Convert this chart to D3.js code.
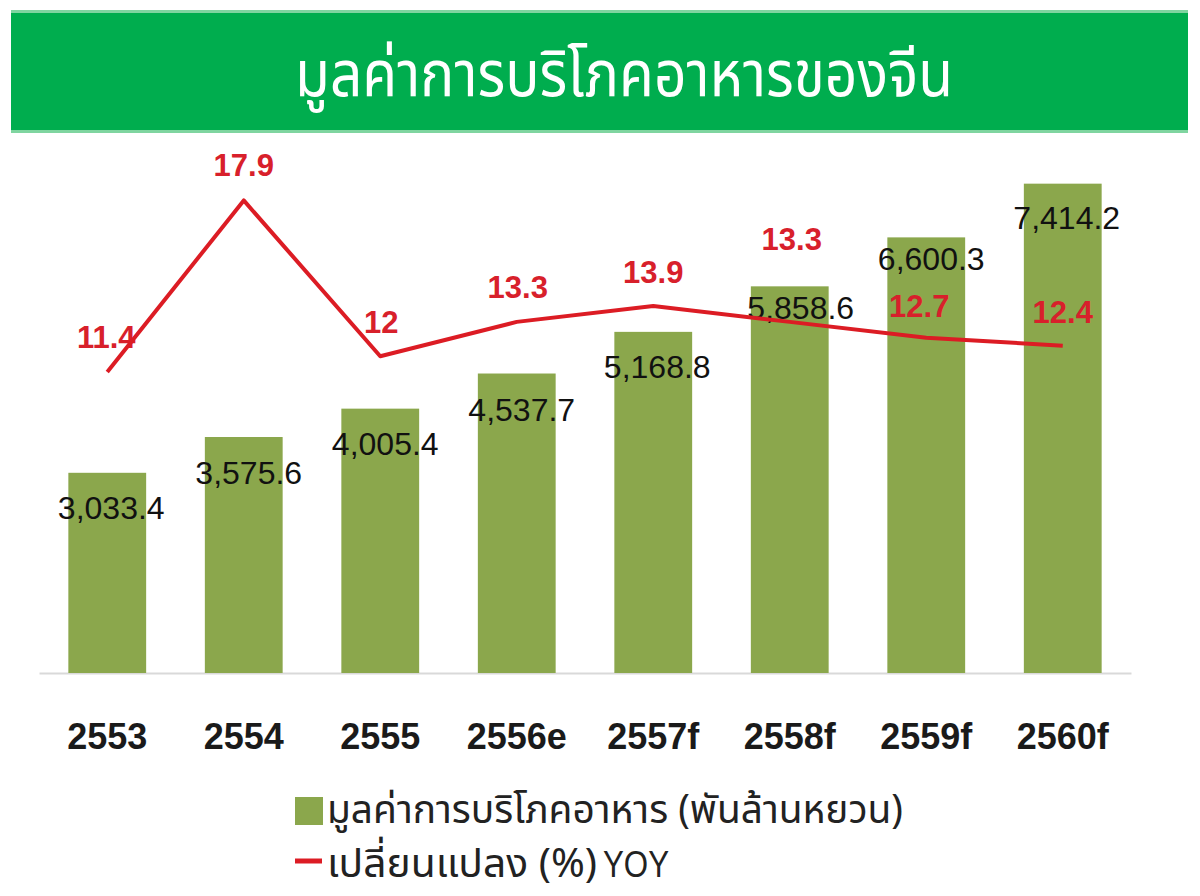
<!DOCTYPE html>
<html>
<head>
<meta charset="utf-8">
<script src="https://cdn.jsdelivr.net/npm/d3@7"></script>
<style>
  body { margin: 0; background: #fff; }
  svg { display: block; }
</style>
</head>
<body>
<svg id="chart" width="1200" height="896"></svg>
<script>
  const title = "มูลค่าการบริโภคอาหารของจีน";
  const years = ["2553", "2554", "2555", "2556e", "2557f", "2558f", "2559f", "2560f"];
  const consumption = [3033.4, 3575.6, 4005.4, 4537.7, 5168.8, 5858.6, 6600.3, 7414.2];
  const yoy = [11.4, 17.9, 12, 13.3, 13.9, 13.3, 12.7, 12.4];
  const legendBars = "มูลค่าการบริโภคอาหาร (พันล้านหยวน)";
  const legendLine = "เปลี่ยนแปลง (%) ";
  const legendLineSuffix = "YOY";

  // label nudges (px), as placed in the original
  const valueDy = [35, 35, 35, 36, 35, 21, 21, 34];
  const valueDx = [4, 5, 5, 5, 4, 11, 5, 4];
  const yoyDy = [-35, -36, -34, -35, -34, -83, -32, -34];
  const yoyDx = [-1, 0, 1, 1, 0, 2, -7, 0];

  const thaiFont = "'Noto Sans Thai', 'Noto Sans', Loma, Garuda, sans-serif";
  const numFont = "'Liberation Sans', Arial, sans-serif";

  const svg = d3.select("#chart");

  // title banner
  svg.append("rect")
    .attr("x", 11).attr("y", 10)
    .attr("width", 1177).attr("height", 123)
    .attr("fill", "#00ad4e");
  svg.append("rect").attr("x", 11).attr("y", 10).attr("width", 1177).attr("height", 3).attr("fill", "#7fd5a0");
  svg.append("rect").attr("x", 11).attr("y", 130).attr("width", 1177).attr("height", 3).attr("fill", "#7fd5a0");
  svg.append("text")
    .attr("x", 624).attr("y", 96)
    .attr("text-anchor", "middle")
    .attr("font-family", thaiFont)
    .attr("font-size", 64)
    .attr("fill", "#fff")
    .attr("textLength", 658)
    .attr("lengthAdjust", "spacingAndGlyphs")
    .text(title);

  const x = d3.scaleBand()
    .domain(years)
    .range([39, 1131])
    .paddingInner(0.43)
    .paddingOuter(0.215);

  const y = d3.scaleLinear().domain([0, 8000]).range([673, 145]);
  const y2 = d3.scaleLinear().domain([0, 20]).range([673, 145]);

  const g = svg.append("g");

  // baseline
  const xAxis = d3.axisBottom(x).tickSize(0).tickPadding(0);
  const axisG = g.append("g")
    .attr("transform", "translate(0,673)")
    .call(xAxis);
  axisG.select(".domain").attr("stroke", "#d9d9d9").attr("stroke-width", 2);
  axisG.selectAll(".tick text")
    .attr("y", 76)
    .attr("dy", 0)
    .attr("font-family", numFont)
    .attr("font-weight", "bold")
    .attr("font-size", 36)
    .attr("fill", "#1a1a1a");

  // bars
  g.selectAll(".bar")
    .data(consumption)
    .enter().append("rect")
    .attr("class", "bar")
    .attr("x", (d, i) => x(years[i]))
    .attr("width", x.bandwidth())
    .attr("y", d => y(d))
    .attr("height", d => y(0) - y(d))
    .attr("fill", "#8ba74c");

  const fmt = d3.format(",.1f");
  g.selectAll(".val")
    .data(consumption)
    .enter().append("text")
    .attr("class", "val")
    .attr("x", (d, i) => x(years[i]) + x.bandwidth() / 2 + valueDx[i])
    .attr("y", (d, i) => y(d) + valueDy[i])
    .attr("dy", "0.36em")
    .attr("text-anchor", "middle")
    .attr("font-family", numFont)
    .attr("font-size", 32)
    .attr("fill", "#111")
    .text(d => fmt(d));

  g.selectAll(".yoy")
    .data(yoy)
    .enter().append("text")
    .attr("class", "yoy")
    .attr("x", (d, i) => x(years[i]) + x.bandwidth() / 2 + yoyDx[i])
    .attr("y", (d, i) => y2(d) + yoyDy[i])
    .attr("dy", "0.36em")
    .attr("text-anchor", "middle")
    .attr("font-family", numFont)
    .attr("font-weight", "bold")
    .attr("font-size", 31)
    .attr("fill", "#d8202b")
    .text(d => String(d));

  const line = d3.line()
    .x((d, i) => x(years[i]) + x.bandwidth() / 2)
    .y(d => y2(d));
  g.append("path")
    .datum(yoy)
    .attr("d", line)
    .attr("fill", "none")
    .attr("stroke", "#dc1c24")
    .attr("stroke-width", 4)
    .attr("stroke-linejoin", "round");

  // legend
  const legend = svg.append("g");
  legend.append("rect")
    .attr("x", 295).attr("y", 797)
    .attr("width", 28).attr("height", 28)
    .attr("fill", "#8ba74c");
  legend.append("text")
    .attr("x", 327).attr("y", 823)
    .attr("font-family", thaiFont)
    .attr("font-size", 40)
    .attr("fill", "#222")
    .attr("textLength", 576)
    .attr("lengthAdjust", "spacingAndGlyphs")
    .text(legendBars);

  legend.append("line")
    .attr("x1", 295).attr("x2", 322)
    .attr("y1", 861).attr("y2", 861)
    .attr("stroke", "#dc1c24")
    .attr("stroke-width", 5);
  legend.append("text")
    .attr("x", 327).attr("y", 877)
    .attr("font-family", thaiFont)
    .attr("font-size", 40)
    .attr("fill", "#222")
    .attr("textLength", 270)
    .attr("lengthAdjust", "spacingAndGlyphs")
    .text(legendLine);
  legend.append("text")
    .attr("x", 603).attr("y", 877)
    .attr("font-family", numFont)
    .attr("font-size", 37)
    .attr("fill", "#222")
    .attr("textLength", 66)
    .attr("lengthAdjust", "spacingAndGlyphs")
    .text(legendLineSuffix);
</script>
</body>
</html>
